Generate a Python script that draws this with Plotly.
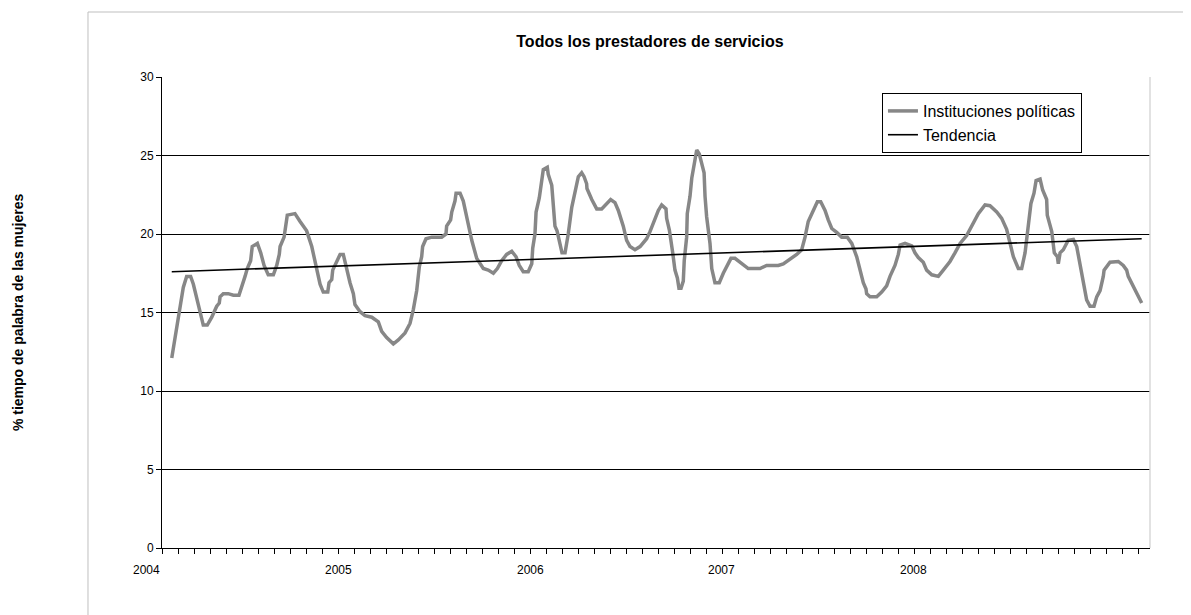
import plotly.graph_objects as go

# Meses desde enero de 2004 (0 = ene 2004) y % de tiempo de palabra
meses = [1.61, 2.13, 2.33, 2.54, 2.79, 2.96, 3.06, 3.13, 3.33, 3.58, 3.83, 4.11, 4.42, 4.58, 4.63,
         4.83, 5.14, 5.46, 5.81, 5.98, 6.19, 6.33, 6.54, 6.64, 6.96, 7.17, 7.38, 7.64, 7.96, 8.17,
         8.33, 8.38, 8.63, 8.83, 9.31, 9.63, 10.04, 10.36, 10.63, 10.88, 11.08, 11.36, 11.44, 11.61,
         11.67, 11.92, 12.13, 12.33, 12.54, 12.75, 12.96, 13.06, 13.38,
         13.69, 14.11, 14.52, 14.73, 15.04, 15.46, 15.77, 16.19, 16.5, 16.71, 16.92, 17.08, 17.23,
         17.29, 17.5, 17.86, 18.48, 18.75, 18.79, 19.04, 19.11, 19.31, 19.38, 19.63, 19.83, 20.04,
         20.36, 20.67, 21.08, 21.39, 21.71, 21.96, 22.23, 22.54, 22.86, 23.13, 23.33, 23.58, 23.89,
         24.11, 24.17, 24.31, 24.38, 24.58, 24.73, 24.83, 25.08, 25.14, 25.36, 25.46, 25.56, 25.69,
         25.88, 26.0, 26.19, 26.29, 26.39, 26.61, 26.81, 27.02, 27.23, 27.38, 27.54, 27.56, 27.86,
         28.17, 28.48, 28.79, 29.04, 29.31, 29.52, 29.83, 30.04, 30.25, 30.56, 30.88, 31.29, 31.5,
         31.77, 32.02, 32.23, 32.5, 32.54, 32.71, 32.92, 33.06, 33.21, 33.31, 33.44, 33.58, 33.64,
         33.79, 33.83, 34.0, 34.11, 34.31, 34.42, 34.58, 34.73, 34.88, 34.94, 35.04, 35.25, 35.36,
         35.56, 35.83, 36.08, 36.36, 36.56, 36.81, 37.23, 37.64, 38.06, 38.38,
         38.79, 39.52, 39.83, 40.25, 40.67, 40.98, 41.19, 41.39, 41.61, 41.77, 41.96, 42.17, 42.44,
         42.64, 42.86, 43.17, 43.48, 43.83, 44.11, 44.42, 44.63, 44.83, 45.0, 45.04, 45.25, 45.67,
         45.98, 46.29, 46.5, 46.81, 47.02, 47.13, 47.44, 47.86, 48.06, 48.27, 48.58, 48.79, 49.11,
         49.52, 49.83, 50.25, 50.56, 50.88,
         51.29, 51.71, 52.02, 52.44, 52.75, 53.17, 53.48, 53.79, 54.0, 54.21, 54.52, 54.73, 54.94,
         55.14, 55.31, 55.5, 55.63, 55.88, 56.04, 56.29, 56.33, 56.61, 56.77, 56.96, 57.02, 57.13,
         57.33, 57.64, 57.96, 58.17, 58.38, 58.58, 58.79, 59.0, 59.25, 59.42, 59.63, 59.83, 59.88,
         60.25, 60.77, 61.08, 61.29, 61.39, 61.71, 62.02, 62.23]

valores = [12.1, 15.2, 16.6, 17.3, 17.3, 16.8, 16.4, 15.9, 15.2, 14.2, 14.2, 14.7, 15.4, 15.6, 16.0,
           16.2, 16.2, 16.1, 16.1, 16.6, 17.3, 17.8, 18.3, 19.2, 19.4, 18.8, 18.0, 17.4, 17.4, 18.0,
           18.7, 19.2, 19.8, 21.2, 21.3, 20.8, 20.2, 19.2, 17.9, 16.8, 16.3, 16.3, 16.9, 17.1,
           17.7, 18.2, 18.7, 18.7, 17.7, 16.9, 16.2, 15.5, 15.05,
           14.8, 14.7, 14.4, 13.8, 13.4, 13.0, 13.25, 13.7, 14.3, 15.2, 16.4, 17.9, 18.55,
           19.2, 19.7, 19.8, 19.8, 20.0, 20.5, 20.9, 21.4, 22.1, 22.6, 22.6, 22.1, 21.1,
           19.6, 18.45, 17.8, 17.7, 17.5, 17.8, 18.3, 18.7, 18.9, 18.55, 18.0, 17.6, 17.6,
           18.1, 19.1, 20.0, 21.4, 22.3, 23.2, 24.1, 24.25, 23.8, 23.1, 21.7, 20.5, 20.2,
           19.4, 18.8, 18.8, 19.4, 20.0, 21.7, 22.8, 23.65, 23.9, 23.65, 23.2, 22.9, 22.2,
           21.6, 21.6, 21.95, 22.2, 22.0, 21.5, 20.5, 19.6, 19.2, 19.0, 19.2, 19.7, 20.15,
           20.9, 21.5, 21.85, 21.6, 21.0, 20.25, 18.8, 17.7, 17.2, 16.55, 16.55, 17.0, 18.3,
           19.8, 21.3, 22.4, 23.55, 24.7, 25.35, 25.1, 24.5, 23.9, 22.4, 21.1, 19.4, 17.8,
           16.9, 16.9, 17.5, 18.0, 18.45, 18.45, 18.1, 17.8, 17.8, 17.8,
           18.0, 18.0, 18.1, 18.4, 18.7, 19.0, 19.8, 20.8, 21.3, 21.7, 22.05, 22.05, 21.5,
           20.9, 20.35, 20.1, 19.8, 19.8, 19.4, 18.55, 17.7, 16.9, 16.5, 16.2, 16.0, 16.0,
           16.3, 16.7, 17.3, 18.0, 18.7, 19.3, 19.4, 19.25, 18.8, 18.5, 18.2, 17.7, 17.4,
           17.3, 17.7, 18.25, 18.8, 19.4,
           19.9, 20.7, 21.3, 21.85, 21.8, 21.4, 21.0, 20.3, 19.4, 18.55, 17.8, 17.8, 18.8,
           20.35, 21.95, 22.6, 23.4, 23.5, 22.8, 22.2, 21.2, 20.15, 18.8, 18.55, 18.1, 18.8,
           19.0, 19.6, 19.65, 19.2, 18.1, 16.9, 15.8, 15.4, 15.4, 16.0, 16.4, 17.3, 17.7,
           18.2, 18.25, 18.0, 17.7, 17.3, 16.65, 16.1, 15.6]

tendencia_meses = [1.61, 62.23]
tendencia_valores = [17.6, 19.7]

anios = [2004, 2005, 2006, 2007, 2008]
y_ticks = [0, 5, 10, 15, 20, 25, 30]

x_ini = 2004 + 1.0 / 12
x_fin = 2004 + 62.75 / 12

x_serie = [2004 + m / 12 for m in meses]
x_tend = [2004 + m / 12 for m in tendencia_meses]

fig = go.Figure()
fig.add_trace(go.Scatter(
    x=x_serie, y=valores, mode="lines", name="Instituciones políticas",
    line=dict(color="#878787", width=3.5),
))
fig.add_trace(go.Scatter(
    x=x_tend, y=tendencia_valores, mode="lines", name="Tendencia",
    line=dict(color="#000000", width=1.6),
))

font_family = "Liberation Sans, Arial, sans-serif"

annotations = []
for a in anios:
    annotations.append(dict(
        x=(a - x_ini) / (x_fin - x_ini), xref="paper", y=-0.028, yref="paper",
        text=str(a), showarrow=False, xanchor="center", yanchor="top",
        font=dict(size=12, color="#000000", family=font_family),
    ))
annotations.append(dict(
    x=-0.1462, xref="paper", y=0.5, yref="paper", textangle=-90,
    text="<b>% tiempo de palabra de las mujeres</b>", showarrow=False,
    xanchor="center", yanchor="middle",
    font=dict(size=14, color="#000000", family=font_family),
))

shapes = [
    # borde del área del gráfico
    dict(type="rect", xref="paper", yref="paper", x0=-0.0749, y0=-0.3, x1=1.2, y1=1.138,
         line=dict(color="#bfbfbf", width=1), layer="below"),
    # borde derecho del área de trazado
    dict(type="line", xref="paper", yref="paper", x0=1, y0=0, x1=1, y1=1,
         line=dict(color="#d9d9d9", width=1.5)),
]

fig.update_layout(
    width=1191, height=615,
    margin=dict(l=154, r=49, t=69, b=75),
    paper_bgcolor="white", plot_bgcolor="white",
    font=dict(family=font_family, color="#000000"),
    title=dict(text="<b>Todos los prestadores de servicios</b>", x=0.539, xanchor="center",
               y=0.9455, yanchor="middle", font=dict(size=16, color="#000000", family=font_family)),
    showlegend=True,
    legend=dict(x=0.7287, y=0.966, xanchor="left", yanchor="top",
                bordercolor="#000000", borderwidth=1, bgcolor="white",
                font=dict(size=16, color="#000000", family=font_family),
                tracegroupgap=0, itemwidth=30),
    annotations=annotations,
    shapes=shapes,
)
fig.update_xaxes(
    range=[x_ini, x_fin], showgrid=False, zeroline=False,
    showline=True, linecolor="#000000", linewidth=1,
    tick0=x_ini, dtick=1 / 12, ticks="outside", ticklen=5, tickcolor="#000000",
    showticklabels=False,
)
fig.update_yaxes(
    range=[0, 30], tickvals=y_ticks, showgrid=True, gridcolor="#000000", gridwidth=1,
    zeroline=False, showline=True, linecolor="#000000", linewidth=1,
    ticks="outside", ticklen=5, tickcolor="#000000",
    tickfont=dict(size=12, color="#000000", family=font_family),
)

fig.write_html("out.html")
